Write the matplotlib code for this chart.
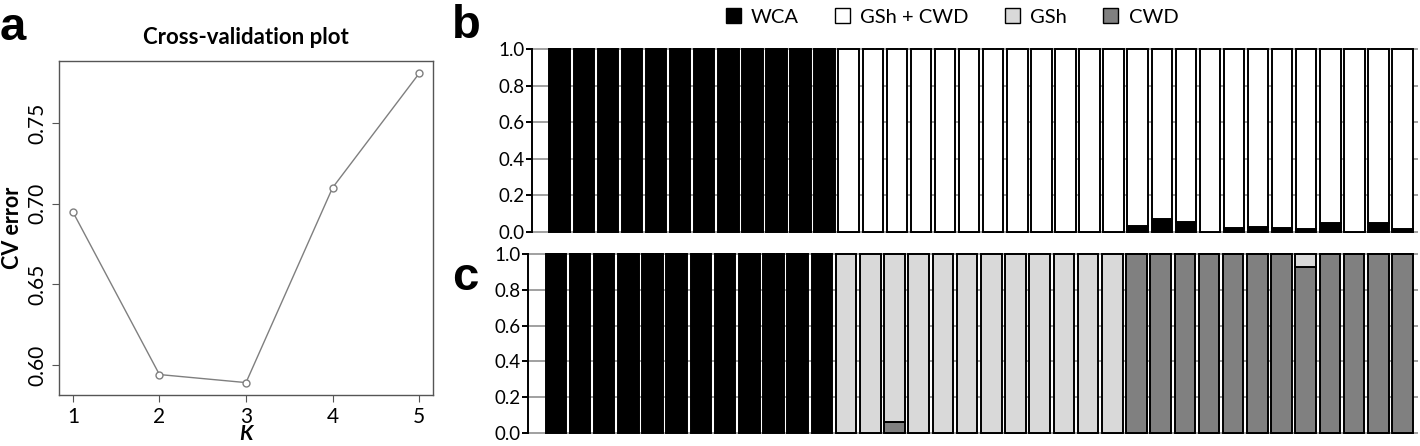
import numpy as np
import matplotlib
matplotlib.use('Agg')
import matplotlib.pyplot as plt
from matplotlib.patches import Patch

# cross-validation error per K
k_values = [1, 2, 3, 4, 5]
cv_error = [0.695, 0.594, 0.589, 0.710, 0.781]

# admixture proportions, 36 individuals
n_ind = 36
# K = 2
wca_k2 = [1.0] * 12 + [0.0] * 12 + [0.033, 0.068, 0.055, 0.0, 0.019, 0.024,
                                    0.019, 0.017, 0.049, 0.0, 0.046, 0.014]
gshcwd_k2 = [1.0 - v for v in wca_k2]
# K = 3
wca_k3 = [1.0] * 12 + [0.0] * 24
cwd_k3 = [0.0] * 12 + [0.0, 0.0, 0.058] + [0.0] * 9 + [1.0] * 7 + [0.929] + [1.0] * 4
gsh_k3 = [1.0 - a - b for a, b in zip(wca_k3, cwd_k3)]

legend_labels = ['WCA', 'GSh + CWD', 'GSh', 'CWD']
col_wca = '#000000'
col_gshcwd = '#ffffff'
col_gsh = '#d9d9d9'
col_cwd = '#808080'

plt.rcParams['font.family'] = ['Lato', 'DejaVu Sans']

fig = plt.figure(figsize=(14.2, 4.46), dpi=100)
W, H = 1420.0, 446.0

def box(x0, y0, x1, y1):
    return [x0 / W, 1 - y1 / H, (x1 - x0) / W, (y1 - y0) / H]

# ---- panel a
ax = fig.add_axes(box(59, 61, 433, 395))
ax.plot(k_values, cv_error, color='#7f7f7f', lw=1.0, marker='o', ms=5,
        mfc='white', mec='#7f7f7f', mew=1.0)
ax.set_xlim(0.84, 5.16)
ax.set_ylim(0.5813, 0.7887)
ax.set_xticks(k_values)
ax.set_yticks([0.60, 0.65, 0.70, 0.75])
ax.set_yticklabels(['0.60', '0.65', '0.70', '0.75'], rotation=90, va='center')
for s in ax.spines.values():
    s.set_color('#555555')
    s.set_linewidth(1.0)
ax.tick_params(colors='#555555', labelcolor='black', labelsize=15, length=5)
ax.set_title('Cross-validation plot', fontsize=16, fontweight='bold', pad=12)
ax.set_ylabel('CV error', fontsize=15.5, fontweight='bold', labelpad=3)
ax.set_xlabel('K', fontsize=15, fontweight='bold', style='italic', labelpad=-2)

# ---- panels b and c
x = np.arange(n_ind)
bw = 0.85

def bar_panel(rect, segments):
    axb = fig.add_axes(rect)
    axb.set_xlim(-1.15, 35.64)
    axb.set_ylim(-0.007, 1.012)
    for g in np.arange(0, 1.01, 0.2):
        axb.axhline(g, color='#999999', lw=1.3, zorder=0)
    bottom = np.zeros(n_ind)
    for vals, col in segments:
        vals = np.array(vals)
        axb.bar(x, vals, bw, bottom=bottom, color=col, edgecolor='black',
                lw=1.4, zorder=2)
        bottom += vals
    for s in ['top', 'right', 'bottom']:
        axb.spines[s].set_visible(False)
    axb.spines['left'].set_bounds(0, 1)
    axb.spines['left'].set_linewidth(1.4)
    axb.set_xticks([])
    axb.set_yticks([0, 0.2, 0.4, 0.6, 0.8, 1.0])
    axb.set_yticklabels(['0.0', '0.2', '0.4', '0.6', '0.8', '1.0'])
    axb.tick_params(axis='y', labelsize=13.5, length=4, width=1.4, pad=1)
    return axb

bar_panel(box(532, 47, 1418, 233), [(wca_k2, col_wca), (gshcwd_k2, col_gshcwd)])
bar_panel(box(528, 252, 1418, 434), [(wca_k3, col_wca), (cwd_k3, col_cwd), (gsh_k3, col_gsh)])

# legend
handles = [Patch(facecolor=c, edgecolor='black', lw=1.0)
           for c in [col_wca, col_gshcwd, col_gsh, col_cwd]]
fig.legend(handles, legend_labels, loc='center', bbox_to_anchor=(952 / W, 1 - 17 / H),
           ncol=4, frameon=False, fontsize=14.5, handlelength=0.75, handleheight=0.75,
           handletextpad=0.5, columnspacing=1.8)

# panel letters
for lab, px, py in [('a', 0, 40), ('b', 452, 38), ('c', 452, 290)]:
    fig.text(px / W, 1 - py / H, lab, fontsize=34, fontweight='bold',
             family='Liberation Sans', ha='left', va='baseline')

fig.savefig('out.png', dpi=100)
